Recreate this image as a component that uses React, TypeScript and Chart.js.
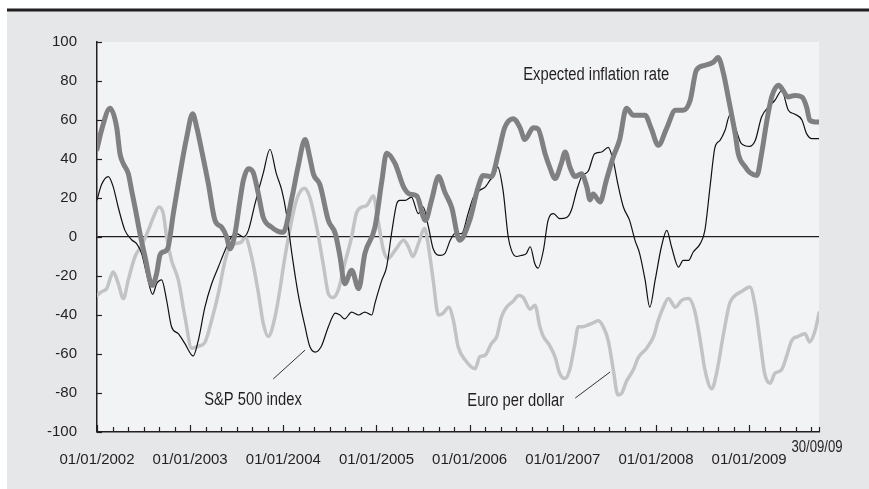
import React, { useEffect, useRef } from 'react';
import { Chart, registerables } from 'chart.js';

Chart.register(...registerables);

// x = months since 01/01/2002
const inflationMonths = [0, 0.6, 1.67, 2.53, 2.96, 3.39, 4.03, 4.46, 4.89, 5.54, 6.18, 7.1, 7.68, 8.1, 8.5, 9.1, 9.83, 10.69, 11.55, 12.32, 12.84, 13.48, 14.34, 15.2, 16.06, 16.7, 17.13, 17.77, 18.42, 18.85, 19.49, 20.1, 20.78, 21.4, 22.5, 23.57, 24.0, 25.1, 25.9, 26.8, 27.4, 27.9, 28.7, 29.8, 30.7, 31.3, 31.9, 32.8, 33.7, 34.5, 35.8, 36.7, 37.3, 38.4, 39.5, 40.3, 41.2, 42.3, 43.1, 44.0, 44.8, 45.7, 46.7, 48.0, 49.1, 49.75, 50.8, 51.7, 52.5, 53.6, 54.5, 55.1, 56.2, 56.8, 57.7, 58.3, 59.0, 59.8, 60.3, 60.9, 61.6, 62.4, 63.1, 63.5, 63.9, 64.8, 65.6, 66.5, 67.3, 68.2, 69.1, 70.6, 71.4, 72.3, 73.4, 74.5, 75.5, 76.4, 77.2, 78.3, 79.4, 80.0, 80.7, 81.3, 82.2, 82.6, 83.5, 84.1, 85.0, 85.6, 86.3, 86.9, 87.8, 88.4, 89.0, 89.9, 90.8, 91.4, 91.8, 92.5, 93];
const inflationValues = [45, 55, 66, 56.4, 42.7, 37.6, 32.5, 23.9, 15.4, 1.7, -10, -24.8, -18.8, -9.4, -7.7, -6, 12, 32.5, 51, 63.2, 56.4, 44.4, 27.4, 8.5, 5, 0, -6, 1.7, 18.8, 29, 35, 33.3, 22.2, 10.3, 5, 2.6, 2.5, 20, 36, 50, 41, 32, 27, 8.5, 1.7, -10, -24, -17, -26.5, -8.5, 5, 29, 43, 37.6, 25.6, 22, 21, 8.5, 19, 31, 23, 15, -1.7, 8.5, 25.6, 31.6, 31, 43, 56, 60.7, 56, 50, 56, 55.5, 43, 36, 30, 37.6, 43.6, 36, 31, 32.5, 25.6, 19, 22, 18, 29, 41, 49.6, 66, 62.4, 62.4, 55.5, 47, 56, 65, 65, 70, 85.5, 88, 89.7, 92, 83.8, 71.8, 53, 42.7, 36, 33, 31.6, 42.7, 60, 71.8, 77.8, 75, 71.8, 72.6, 71.8, 66.7, 60, 59, 59];

const spMonths = [0, 0.6, 1.46, 2.1, 2.75, 3.6, 4.46, 5.1, 5.75, 6.4, 7.17, 7.68, 8.33, 8.97, 9.6, 10.47, 11.33, 12.4, 13.05, 13.9, 14.77, 15.63, 16.5, 17.3, 18.0, 18.85, 19.5, 20.35, 21.4, 22.28, 23.1, 23.8, 24.4, 25.1, 25.9, 26.8, 27.4, 28.1, 28.9, 29.8, 30.7, 31.3, 31.9, 32.8, 33.7, 34.5, 35.4, 35.8, 36.7, 37.3, 38.0, 38.6, 39.0, 39.7, 40.5, 41.4, 42.0, 42.7, 43.3, 44.2, 44.8, 45.5, 46.1, 46.96, 47.8, 48.5, 49.3, 50.0, 50.6, 51.25, 51.6, 52.3, 52.97, 53.4, 54.0, 54.7, 55.3, 55.8, 56.4, 56.8, 57.5, 58.1, 58.8, 59.6, 60.5, 61.1, 61.8, 62.4, 63.3, 64.1, 65.0, 65.85, 66.5, 67.1, 67.8, 68.6, 69.3, 69.9, 70.6, 71.2, 71.9, 72.7, 73.4, 74.0, 74.9, 75.5, 76.2, 76.8, 77.7, 78.3, 79.0, 79.6, 80.25, 80.9, 81.5, 82.2, 83.0, 84.1, 84.8, 85.6, 86.5, 87.3, 88.2, 89.05, 89.9, 90.8, 91.4, 92.1, 93];
const spValues = [19, 27, 31, 25.6, 15, 3.4, -1.4, -3.4, -8.5, -19, -29.4, -24, -22, -32.5, -46, -49.6, -54.7, -61, -53, -36, -24, -15.4, -6.8, 0, 1.7, 0, 3.4, 17, 32.5, 45, 32.5, 24, 12, -8.5, -29, -46, -56, -59, -56, -46, -39, -40, -42, -38.5, -40, -38.5, -40, -34, -22, -15.4, 3.4, 17, 18.8, 18.8, 20.5, 12, 15.4, 5, -6, -9.4, -8.5, -1.7, 1.7, 1.7, 12, 20.5, 24, 25.6, 29, 32.5, 36, 24, 0, -7, -10, -9.4, -8.5, -5, -13.7, -16, -6.8, 8.5, 12, 9.4, 10, 13.7, 24, 30.8, 34, 42.7, 43.6, 46, 39, 27, 15.4, 8.5, -1.7, -8.5, -22, -36, -22, -5, 3.4, -5, -15.4, -12, -12, -7.7, -3.4, 3.4, 27, 46, 49.6, 54.7, 62.4, 56.4, 47.9, 46.5, 49.6, 61.5, 66.7, 70, 75, 65, 63, 60, 53, 50.4, 50.4];

const euroMonths = [0, 0.6, 1.24, 2.1, 2.75, 3.39, 4.03, 4.9, 5.75, 6.6, 7.25, 7.98, 8.54, 8.97, 9.6, 10.47, 11.33, 12.2, 13.05, 13.9, 14.77, 15.63, 16.5, 17.1, 17.77, 18.6, 19.06, 19.9, 20.8, 21.4, 22.07, 22.93, 23.6, 24.0, 24.9, 25.7, 26.7, 27.4, 28.3, 29.2, 29.8, 30.4, 31.1, 31.9, 32.8, 33.4, 34.1, 34.7, 35.6, 36.2, 36.9, 37.5, 38.4, 39.5, 40.1, 40.7, 41.4, 42.2, 42.7, 43.3, 43.97, 44.6, 45.3, 45.9, 46.5, 47.4, 48.7, 49.3, 49.96, 50.8, 51.5, 52.1, 52.75, 53.6, 54.3, 54.9, 55.8, 56.4, 57.05, 57.5, 58.3, 59.0, 59.6, 60.3, 60.9, 61.5, 62.0, 62.6, 63.3, 63.9, 64.6, 65.2, 65.85, 66.5, 67.1, 67.6, 68.2, 69.1, 69.7, 70.8, 71.7, 72.3, 72.95, 73.6, 74.5, 75.3, 76.2, 77.0, 77.7, 78.3, 79.2, 79.8, 80.7, 81.5, 82.2, 83.0, 84.1, 84.8, 85.4, 86.0, 86.7, 87.3, 88.2, 88.8, 89.5, 90.3, 91.2, 91.8, 92.5, 93];
const euroValues = [-30, -28, -26.5, -18, -24, -31.6, -22, -10, -4.3, 3.4, 10, 15.4, 12, 0, -12, -22, -41, -57, -56, -54, -42.7, -29, -12, -5, -3.4, -2.6, 0, -10, -29, -44, -51, -41, -26, -15.4, 5, 19, 25, 20.5, 5, -15.4, -29, -31, -27, -13.7, 0, 12, 15.4, 16, 21, 8.5, -6.8, -11, -6.8, -1.7, -5, -10, -3.4, 4.3, -5, -22, -40, -39, -36, -42.7, -56, -63, -67.5, -61.5, -60.7, -54.7, -51, -41, -36, -33, -30, -31, -37, -35, -46, -51, -55.6, -61.5, -70, -72.6, -68, -56, -46, -46, -45, -44, -43, -46, -53, -68, -81, -80, -74, -68, -62, -57, -51, -42.7, -36, -31.6, -36, -32.5, -31.6, -38, -53, -68, -77.8, -70, -49.6, -34, -30, -28, -25.6, -36, -53, -70, -75, -70, -68, -61.5, -53, -51, -49.6, -53.8, -48, -39];

const yearLabels = ['01/01/2002', '01/01/2003', '01/01/2004', '01/01/2005', '01/01/2006', '01/01/2007', '01/01/2008', '01/01/2009'];
const endLabel = '30/09/09';
const seriesNames = ['Expected inflation rate', 'S&P 500 index', 'Euro per dollar'];

const FONT = "'Liberation Sans', Arial, sans-serif";
const TEXT = '#231f20';
const OUTER_BG = '#e6e7e9';
const PLOT_BG = '#f2f3f5';
const MAX_M = 93;

const toPts = (xs: number[], ys: number[]) => xs.map((x, i) => ({ x, y: ys[i] }));

// condensed text (mimics a narrow typeface)
const narrowText = (ctx: any, s: string, x: number, y: number, size: number, align: string) => {
  const k = 0.82;
  ctx.save();
  ctx.font = `${size}px ${FONT}`;
  ctx.textAlign = align;
  ctx.textBaseline = 'middle';
  ctx.translate(x, y);
  ctx.scale(k, 1);
  ctx.fillText(s, 0, 0);
  ctx.restore();
};

const decorPlugin = {
  id: 'decor',
  beforeDraw(chart: any) {
    const { ctx, chartArea: ca, width, height } = chart;
    ctx.save();
    ctx.fillStyle = '#ffffff';
    ctx.fillRect(0, 0, width, height);
    ctx.fillStyle = OUTER_BG;
    ctx.fillRect(7, 11, width - 7, height - 11);
    ctx.fillStyle = TEXT;
    ctx.fillRect(7, 8.5, width - 7, 3);
    ctx.fillStyle = PLOT_BG;
    ctx.fillRect(ca.left, ca.top, ca.right - ca.left, ca.bottom - ca.top);
    ctx.restore();
  },
  afterDraw(chart: any) {
    const { ctx, chartArea: ca } = chart;
    const xs = chart.scales.x;
    const ys = chart.scales.y;
    ctx.save();
    ctx.strokeStyle = TEXT;
    ctx.lineWidth = 1.2;
    xs.ticks.forEach((t: any) => {
      const px = Math.round(xs.getPixelForValue(t.value)) + 0.5;
      const len = t.value % 12 === 0 ? 7 : 5;
      ctx.beginPath();
      ctx.moveTo(px, ca.bottom);
      ctx.lineTo(px, ca.bottom - len);
      ctx.stroke();
    });
    ys.ticks.forEach((t: any) => {
      const py = Math.round(ys.getPixelForValue(t.value)) + 0.5;
      ctx.beginPath();
      ctx.moveTo(ca.left, py);
      ctx.lineTo(ca.left + 5, py);
      ctx.stroke();
    });
    ctx.fillStyle = TEXT;
    narrowText(ctx, endLabel, xs.getPixelForValue(MAX_M) - 2, ca.bottom + 16, 16, 'center');
    narrowText(ctx, seriesNames[0], xs.getPixelForValue(54.9), ys.getPixelForValue(83), 18, 'left');
    narrowText(ctx, seriesNames[1], xs.getPixelForValue(13.8), ys.getPixelForValue(-83.6), 18, 'left');
    narrowText(ctx, seriesNames[2], xs.getPixelForValue(47.7), ys.getPixelForValue(-84.1), 18, 'left');
    ctx.strokeStyle = '#333333';
    ctx.lineWidth = 1;
    ctx.beginPath();
    ctx.moveTo(xs.getPixelForValue(22.7), ys.getPixelForValue(-72.8));
    ctx.lineTo(xs.getPixelForValue(26.8), ys.getPixelForValue(-58));
    ctx.moveTo(xs.getPixelForValue(61.6), ys.getPixelForValue(-82.6));
    ctx.lineTo(xs.getPixelForValue(66.1), ys.getPixelForValue(-69.2));
    ctx.stroke();
    ctx.restore();
  },
};

export default function App() {
  const ref = useRef<HTMLCanvasElement | null>(null);
  useEffect(() => {
    if (!ref.current) return;
    const common = { pointRadius: 0, cubicInterpolationMode: 'monotone', borderJoinStyle: 'round', borderCapStyle: 'round' };
    const chart = new Chart(ref.current, {
      type: 'line',
      data: {
        datasets: [
          { ...common, label: seriesNames[0], data: toPts(inflationMonths, inflationValues), borderColor: '#808082', borderWidth: 5 },
          { ...common, label: seriesNames[1], data: toPts(spMonths, spValues), borderColor: '#111111', borderWidth: 1.2 },
          { ...common, label: seriesNames[2], data: toPts(euroMonths, euroValues), borderColor: '#c2c3c5', borderWidth: 3.5 },
        ],
      },
      options: {
        animation: false,
        responsive: false,
        events: [],
        layout: { padding: { top: 42, right: 50, left: 0, bottom: 0 } },
        plugins: { legend: { display: false }, tooltip: { enabled: false } },
        scales: {
          x: {
            type: 'linear',
            min: 0,
            max: MAX_M,
            afterBuildTicks: (scale: any) => {
              const t: any[] = [];
              for (let m = 0; m <= MAX_M; m += 2) t.push({ value: m });
              t.push({ value: MAX_M });
              scale.ticks = t;
            },
            afterFit: (scale: any) => { scale.height = 57; },
            ticks: {
              autoSkip: false,
              maxRotation: 0,
              padding: 19,
              color: TEXT,
              font: { family: FONT, size: 15 },
              callback: (v: any) => (Number(v) % 12 === 0 ? yearLabels[Number(v) / 12] ?? '' : ''),
            },
            grid: { color: 'transparent', drawTicks: false },
            border: { display: true, color: TEXT, width: 1.5 },
          },
          y: {
            min: -100,
            max: 100,
            afterFit: (scale: any) => { scale.width = 97; },
            ticks: {
              stepSize: 20,
              padding: 20,
              color: TEXT,
              font: { family: FONT, size: 15 },
            },
            grid: {
              drawTicks: false,
              color: (c: any) => (c.tick && c.tick.value === 0 ? TEXT : 'transparent'),
              lineWidth: 1.3,
            },
            border: { display: true, color: TEXT, width: 1.5 },
          },
        },
      },
      plugins: [decorPlugin],
    } as any);
    return () => chart.destroy();
  }, []);
  return (
    <div style={{ position: 'absolute', left: 0, top: 0, width: 869, height: 489 }}>
      <canvas ref={ref} width={869} height={489} style={{ display: 'block', width: 869, height: 489 }} />
    </div>
  );
}
